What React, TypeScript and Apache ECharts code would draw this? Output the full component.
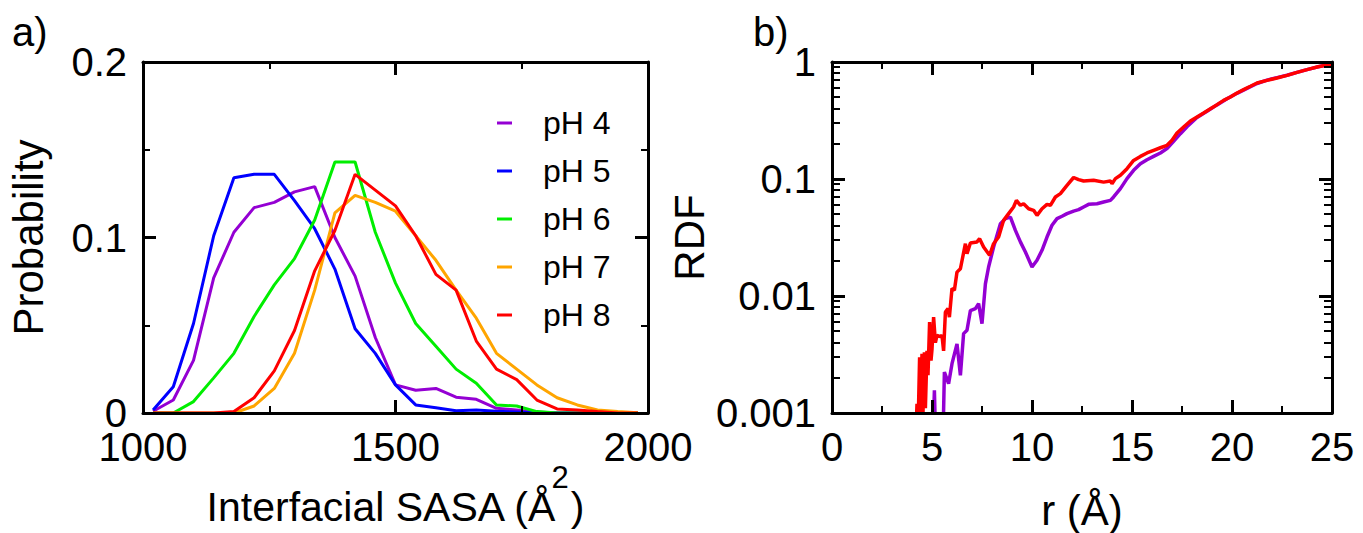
import React, { useEffect, useRef } from "react";
import * as echarts from "echarts";

// ---------- Panel a) : interfacial SASA distributions ----------
const sasaBins = [1020, 1060, 1100, 1140, 1180, 1220, 1260, 1300, 1340, 1380, 1420, 1460, 1500, 1540, 1580, 1620, 1660, 1700, 1740, 1780, 1820, 1860, 1900, 1940, 1980];
const probPH4 = [0.001, 0.0074, 0.03, 0.077, 0.103, 0.117, 0.12, 0.126, 0.129, 0.1, 0.078, 0.043, 0.016, 0.013, 0.014, 0.009, 0.0078, 0.0027, 0.0017, 0.0005, 0, 0, 0, 0, 0];
const probPH5 = [0.0017, 0.015, 0.051, 0.101, 0.134, 0.136, 0.136, 0.121, 0.105, 0.082, 0.048, 0.034, 0.016, 0.0046, 0.003, 0.0013, 0.0017, 0.001, 0.0005, 0, 0, 0, 0, 0, 0];
const probPH6 = [0, 0, 0.0065, 0.02, 0.034, 0.055, 0.073, 0.088, 0.11, 0.143, 0.143, 0.103, 0.074, 0.051, 0.038, 0.025, 0.017, 0.0046, 0.004, 0.0008, 0, 0, 0, 0, 0];
const probPH7 = [0, 0, 0, 0, 0, 0.004, 0.014, 0.034, 0.07, 0.114, 0.124, 0.12, 0.115, 0.101, 0.087, 0.07, 0.054, 0.034, 0.025, 0.016, 0.0087, 0.0046, 0.0017, 0.0008, 0.0002];
const probPH8 = [0, 0, 0, 0, 0.0008, 0.0087, 0.024, 0.047, 0.081, 0.104, 0.136, 0.127, 0.118, 0.101, 0.079, 0.07, 0.041, 0.025, 0.019, 0.0074, 0.0023, 0.0017, 0.0008, 0, 0];

const seriesNames = ["pH 4", "pH 5", "pH 6", "pH 7", "pH 8"];
const seriesColors = ["#9400D3", "#0000FF", "#00EE00", "#FFA500", "#FF0000"];

// ---------- Panel b) : RDF ----------
const rdfRpH4 = [5.05, 5.12, 5.18, 5.55, 5.62, 5.83, 6.0, 6.25, 6.42, 6.58, 6.75, 6.92, 7.17, 7.33, 7.5, 7.67, 7.83, 8.08, 8.42, 8.67, 8.92, 9.17, 9.42, 9.67, 10.0, 10.25, 10.5, 10.75, 11.0, 11.25, 11.5, 11.75, 12.08, 12.33, 12.58, 12.83, 13.25, 13.58, 13.92, 14.08, 14.42, 14.75, 15.08, 15.42, 15.75, 16.08, 16.42, 16.75, 17.08, 17.42, 17.75, 18.25, 18.75, 19.25, 19.75, 20.25, 20.75, 21.25, 21.75, 22.25, 22.75, 23.25, 23.75, 24.25, 24.75, 25.0];
const rdfPH4 = [0.0006, 0.00156, 0.0006, 0.0006, 0.00224, 0.00178, 0.00264, 0.0039, 0.0021, 0.00477, 0.0051, 0.0075, 0.0078, 0.0086, 0.0058, 0.0127, 0.0177, 0.0262, 0.0415, 0.0458, 0.0473, 0.0364, 0.029, 0.0238, 0.0177, 0.0202, 0.0246, 0.0319, 0.0402, 0.0458, 0.048, 0.0506, 0.0532, 0.0547, 0.0577, 0.0607, 0.0615, 0.0636, 0.0657, 0.0702, 0.0827, 0.1007, 0.1186, 0.135, 0.146, 0.156, 0.167, 0.182, 0.21, 0.244, 0.28, 0.335, 0.38, 0.43, 0.485, 0.54, 0.595, 0.655, 0.7, 0.735, 0.77, 0.815, 0.86, 0.905, 0.945, 0.96];
const rdfRpH8 = [4.17, 4.25, 4.3, 4.38, 4.42, 4.5, 4.55, 4.62, 4.67, 4.75, 4.8, 4.88, 4.95, 5.0, 5.08, 5.17, 5.25, 5.42, 5.5, 5.58, 5.67, 5.8, 5.87, 6.0, 6.12, 6.25, 6.42, 6.67, 6.75, 6.92, 7.25, 7.38, 7.58, 7.88, 8.08, 8.33, 8.58, 8.83, 9.08, 9.22, 9.42, 9.58, 9.83, 10.08, 10.25, 10.5, 10.75, 10.92, 11.17, 11.42, 11.75, 12.08, 12.33, 12.58, 13.08, 13.58, 13.92, 14.0, 14.17, 14.42, 14.75, 15.08, 15.42, 15.75, 16.08, 16.42, 16.75, 17.0, 17.25, 17.58, 17.92, 18.25, 18.58, 18.92, 19.25, 19.58, 19.92, 20.25, 20.58, 20.92, 21.25, 21.75, 22.25, 22.75, 23.25, 23.75, 24.25, 24.75, 25.0];
const rdfPH8 = [0.0005, 0.0012, 0.0007, 0.003, 0.0009, 0.0032, 0.001, 0.0033, 0.0011, 0.0034, 0.0021, 0.006, 0.0028, 0.0035, 0.0066, 0.004, 0.0046, 0.0045, 0.0046, 0.0034, 0.0073, 0.0078, 0.0066, 0.0116, 0.0112, 0.016, 0.0171, 0.028, 0.023, 0.0284, 0.029, 0.0309, 0.0262, 0.0223, 0.028, 0.0319, 0.0443, 0.0506, 0.0577, 0.0657, 0.0596, 0.0615, 0.0557, 0.054, 0.0489, 0.0557, 0.0607, 0.0596, 0.0702, 0.075, 0.0883, 0.103, 0.0987, 0.0961, 0.0975, 0.094, 0.0961, 0.0912, 0.1007, 0.1075, 0.1226, 0.144, 0.156, 0.167, 0.176, 0.185, 0.194, 0.214, 0.247, 0.278, 0.313, 0.339, 0.367, 0.399, 0.432, 0.47, 0.502, 0.543, 0.58, 0.62, 0.662, 0.697, 0.73, 0.769, 0.816, 0.86, 0.906, 0.943, 0.955];

// minor tick positions of the logarithmic RDF axis
const logMinorTicks = [0.002, 0.003, 0.004, 0.005, 0.006, 0.007, 0.008, 0.009, 0.02, 0.03, 0.04, 0.05, 0.06, 0.07, 0.08, 0.09, 0.2, 0.3, 0.4, 0.5, 0.6, 0.7, 0.8, 0.9];

// axis title of panel a), split around its superscript
const sasaTitleMain = "Interfacial SASA (Å";
const sasaTitleSup = "2";
const sasaTitleEnd = ")";

const FONT = "'Liberation Sans', Arial, Helvetica, sans-serif";

function axisBase(extra: any) {
  return {
    axisLine: { show: true, onZero: false, lineStyle: { color: "#000", width: 3 } },
    axisTick: { show: true, inside: true, length: 13, lineStyle: { color: "#000", width: 3 } },
    minorTick: { show: true, splitNumber: 2, length: 7, lineStyle: { color: "#000", width: 2 } },
    splitLine: { show: false },
    minorSplitLine: { show: false },
    axisLabel: { show: true, color: "#000", fontSize: 40, fontFamily: FONT, lineHeight: 30 },
    z: 5,
    ...extra,
  };
}

const nameStyle = { color: "#000", fontFamily: FONT, fontSize: 42, lineHeight: 46 };
const plainNumber = (v: number) => String(v);

function measure(text: string, size: number): number {
  const ctx = document.createElement("canvas").getContext("2d");
  if (!ctx) return text.length * size * 0.55;
  ctx.font = `${size}px 'Liberation Sans', Arial, sans-serif`;
  return ctx.measureText(text).width;
}

export default function App() {
  const ref = useRef<HTMLDivElement>(null);

  useEffect(() => {
    if (!ref.current) return;
    const chart = echarts.init(ref.current, null, { renderer: "svg" });

    const leftProb = [probPH4, probPH5, probPH6, probPH7, probPH8];

    // layout of the split title of panel a)
    const mainSize = 41;
    const supSize = 31;
    const wMain = measure(sasaTitleMain, mainSize);
    const wSup = measure(sasaTitleSup, supSize);
    const wEnd = measure(sasaTitleEnd, mainSize);
    const supX = wMain - 6;
    const endX = supX + wSup + 2;
    const total = endX + wEnd;
    const centerX = 143 + 505 / 2;
    const x0 = centerX - total / 2;
    const titleY = 507;

    const labelStyle = (margin: number) => ({
      show: true, color: "#000", fontSize: 40, fontFamily: FONT, lineHeight: 30, margin, formatter: plainNumber,
    });

    const option: any = {
      animation: false,
      backgroundColor: "#fff",
      grid: [
        { left: 143, top: 62, width: 505, height: 351, outerBoundsMode: "none", containLabel: false },
        { left: 832, top: 62, width: 500, height: 351, outerBoundsMode: "none", containLabel: false },
      ],
      xAxis: [
        axisBase({
          type: "value", gridIndex: 0, position: "bottom", min: 1000, max: 2000, interval: 500,
          axisLabel: labelStyle(19),
        }),
        axisBase({
          type: "value", gridIndex: 0, position: "top", min: 1000, max: 2000, interval: 500,
          axisLabel: { show: false },
        }),
        axisBase({
          type: "value", gridIndex: 1, position: "bottom", min: 0, max: 25, interval: 5,
          axisLabel: labelStyle(19),
          name: "r (Å)",
          nameLocation: "middle",
          nameGap: 74,
          nameTextStyle: nameStyle,
        }),
        axisBase({
          type: "value", gridIndex: 1, position: "top", min: 0, max: 25, interval: 5,
          axisLabel: { show: false },
        }),
      ],
      yAxis: [
        axisBase({
          type: "value", gridIndex: 0, position: "left", min: 0, max: 0.2, interval: 0.1,
          axisLabel: labelStyle(16),
          name: "Probability",
          nameLocation: "middle",
          nameGap: 92,
          nameTextStyle: nameStyle,
        }),
        axisBase({
          type: "value", gridIndex: 0, position: "right", min: 0, max: 0.2, interval: 0.1,
          axisLabel: { show: false },
        }),
        axisBase({
          type: "log", logBase: 10, gridIndex: 1, position: "left", min: 0.001, max: 1,
          minorTick: { show: false },
          axisLabel: {
            show: true, color: "#000", fontSize: 40, fontFamily: FONT, lineHeight: 30, margin: 16,
            formatter: (v: number) => String(Number(v.toPrecision(1))),
          },
          name: "RDF",
          nameLocation: "middle",
          nameGap: 100,
          nameTextStyle: nameStyle,
        }),
        axisBase({
          type: "log", logBase: 10, gridIndex: 1, position: "right", min: 0.001, max: 1,
          minorTick: { show: false },
          axisLabel: { show: false },
        }),
      ],
      legend: {
        data: seriesNames,
        orient: "vertical",
        left: 497,
        top: 107,
        padding: 0,
        itemWidth: 15,
        itemHeight: 3,
        itemGap: 16,
        icon: "rect",
        selectedMode: false,
        textStyle: { fontSize: 32, lineHeight: 32, fontFamily: FONT, color: "#000", padding: [0, 0, 0, 26] },
      },
      graphic: [
        { type: "text", left: 12, top: 12, style: { text: "a)", fontSize: 40, fontFamily: FONT, fill: "#000" } },
        { type: "text", left: 753, top: 12, style: { text: "b)", fontSize: 40, fontFamily: FONT, fill: "#000" } },
        {
          type: "text", x: x0, y: titleY,
          style: { text: sasaTitleMain, fontSize: mainSize, fontFamily: FONT, fill: "#000", align: "left", verticalAlign: "middle" },
        },
        {
          type: "text", x: x0 + supX, y: titleY - 30,
          style: { text: sasaTitleSup, fontSize: supSize, fontFamily: FONT, fill: "#000", align: "left", verticalAlign: "middle" },
        },
        {
          type: "text", x: x0 + endX, y: titleY,
          style: { text: sasaTitleEnd, fontSize: mainSize, fontFamily: FONT, fill: "#000", align: "left", verticalAlign: "middle" },
        },
      ],
      series: [
        ...seriesNames.map((name, k) => ({
          name,
          type: "line",
          xAxisIndex: 0,
          yAxisIndex: 0,
          data: sasaBins.map((x, i) => [x, leftProb[k][i]]),
          showSymbol: false,
          symbol: "none",
          color: seriesColors[k],
          lineStyle: { width: 3, color: seriesColors[k] },
        })),
        {
          name: "pH 4",
          type: "line",
          xAxisIndex: 2,
          yAxisIndex: 2,
          data: rdfRpH4.map((r, i) => [r, rdfPH4[i]]),
          showSymbol: false,
          symbol: "none",
          color: seriesColors[0],
          lineStyle: { width: 3.5, color: seriesColors[0] },
        },
        {
          name: "pH 8",
          type: "line",
          xAxisIndex: 2,
          yAxisIndex: 2,
          data: rdfRpH8.map((r, i) => [r, rdfPH8[i]]),
          showSymbol: false,
          symbol: "none",
          color: seriesColors[4],
          lineStyle: { width: 3.5, color: seriesColors[4] },
        },
        {
          type: "custom",
          name: "log minor ticks",
          xAxisIndex: 2,
          yAxisIndex: 2,
          silent: true,
          clip: false,
          z: 6,
          data: logMinorTicks.map((v) => [0, v]),
          renderItem: (params: any, api: any) => {
            const cs = params.coordSys;
            const p = api.coord([0, api.value(1)]);
            const y = Math.round(p[1]);
            return {
              type: "group",
              children: [
                { type: "line", shape: { x1: cs.x, y1: y, x2: cs.x + 8, y2: y }, style: { stroke: "#000", lineWidth: 2 } },
                { type: "line", shape: { x1: cs.x + cs.width - 8, y1: y, x2: cs.x + cs.width, y2: y }, style: { stroke: "#000", lineWidth: 2 } },
              ],
            };
          },
        },
      ],
    };

    chart.setOption(option);
    return () => chart.dispose();
  }, []);

  return <div ref={ref} style={{ position: "absolute", left: 0, top: 0, width: 1363, height: 533 }} />;
}
